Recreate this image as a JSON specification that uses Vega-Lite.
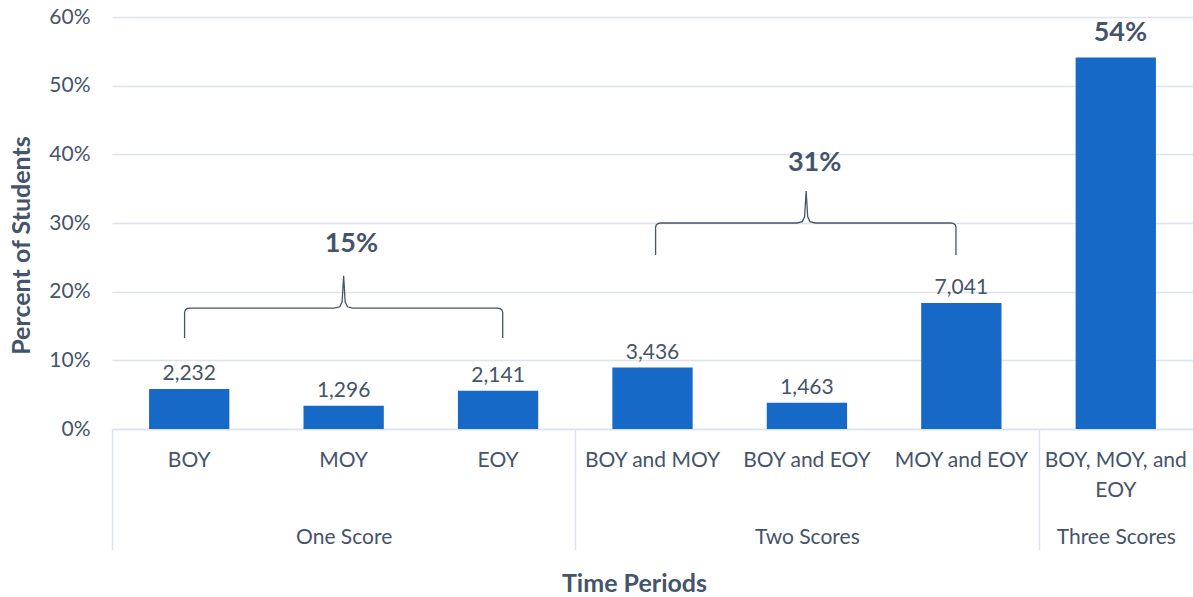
{
  "$schema": "https://vega.github.io/schema/vega-lite/v6.json",
  "width": 1081,
  "height": 412,
  "autosize": {"type": "none"},
  "padding": {"left": 112, "top": 17, "right": 0, "bottom": 168},
  "background": "white",
  "config": {
    "view": {"stroke": null},
    "font": "Lato",
    "axis": {"labelColor": "#44546A", "titleColor": "#44546A", "labelFont": "Lato", "titleFont": "Lato"}
  },
  "datasets": {
    "bars": [
      {"period": "BOY", "group": "One Score", "pct": 0.0581, "count": 2232},
      {"period": "MOY", "group": "One Score", "pct": 0.0338, "count": 1296},
      {"period": "EOY", "group": "One Score", "pct": 0.0558, "count": 2141},
      {"period": "BOY and MOY", "group": "Two Scores", "pct": 0.0895, "count": 3436},
      {"period": "BOY and EOY", "group": "Two Scores", "pct": 0.0381, "count": 1463},
      {"period": "MOY and EOY", "group": "Two Scores", "pct": 0.1834, "count": 7041},
      {"period": "BOY, MOY, and|EOY", "group": "Three Scores", "pct": 0.541, "count": null}
    ],
    "braces": [
      {"brace": "one", "k": 0, "pos": -0.03, "pct": 0.1325},
      {"brace": "one", "k": 1, "pos": -0.03, "pct": 0.170},
      {"brace": "one", "k": 2, "pos": -0.025, "pct": 0.1735},
      {"brace": "one", "k": 3, "pos": -0.012, "pct": 0.1755},
      {"brace": "one", "k": 4, "pos": 0.005, "pct": 0.176},
      {"brace": "one", "k": 5, "pos": 0.94, "pct": 0.176},
      {"brace": "one", "k": 6, "pos": 0.975, "pct": 0.178},
      {"brace": "one", "k": 7, "pos": 0.99, "pct": 0.185},
      {"brace": "one", "k": 8, "pos": 1.0, "pct": 0.223},
      {"brace": "one", "k": 9, "pos": 1.01, "pct": 0.185},
      {"brace": "one", "k": 10, "pos": 1.025, "pct": 0.178},
      {"brace": "one", "k": 11, "pos": 1.06, "pct": 0.176},
      {"brace": "one", "k": 12, "pos": 1.995, "pct": 0.176},
      {"brace": "one", "k": 13, "pos": 2.012, "pct": 0.1755},
      {"brace": "one", "k": 14, "pos": 2.025, "pct": 0.1735},
      {"brace": "one", "k": 15, "pos": 2.03, "pct": 0.170},
      {"brace": "one", "k": 16, "pos": 2.03, "pct": 0.1325},
      {"brace": "two", "k": 0, "pos": 3.02, "pct": 0.2534},
      {"brace": "two", "k": 1, "pos": 3.02, "pct": 0.294},
      {"brace": "two", "k": 2, "pos": 3.025, "pct": 0.2975},
      {"brace": "two", "k": 3, "pos": 3.038, "pct": 0.2995},
      {"brace": "two", "k": 4, "pos": 3.055, "pct": 0.300},
      {"brace": "two", "k": 5, "pos": 3.935, "pct": 0.300},
      {"brace": "two", "k": 6, "pos": 3.97, "pct": 0.302},
      {"brace": "two", "k": 7, "pos": 3.985, "pct": 0.309},
      {"brace": "two", "k": 8, "pos": 3.995, "pct": 0.3466},
      {"brace": "two", "k": 9, "pos": 4.005, "pct": 0.309},
      {"brace": "two", "k": 10, "pos": 4.02, "pct": 0.302},
      {"brace": "two", "k": 11, "pos": 4.055, "pct": 0.300},
      {"brace": "two", "k": 12, "pos": 4.93, "pct": 0.300},
      {"brace": "two", "k": 13, "pos": 4.947, "pct": 0.2995},
      {"brace": "two", "k": 14, "pos": 4.96, "pct": 0.2975},
      {"brace": "two", "k": 15, "pos": 4.965, "pct": 0.294},
      {"brace": "two", "k": 16, "pos": 4.965, "pct": 0.2534}
    ],
    "totals": [
      {"label": "15%", "pos": 1.05, "pct": 0.27},
      {"label": "31%", "pos": 4.05, "pct": 0.387},
      {"label": "54%", "pos": 6.03, "pct": 0.577}
    ]
  },
  "layer": [
    {
      "data": {"name": "bars"},
      "encoding": {
        "x": {
          "field": "period", "type": "nominal", "sort": null,
          "scale": {"paddingInner": 0.48, "paddingOuter": 0.24},
          "axis": {
            "title": "Time Periods", "titleFontSize": 25, "titleFontWeight": "bold",
            "titleX": 522, "titleY": 154, "titleBaseline": "middle",
            "labelExpr": "split(datum.label, '|')", "labelAngle": 0, "labelFontSize": 21,
            "labelPadding": 20, "labelLineHeight": 30, "labelBaseline": "top",
            "ticks": false, "domain": true, "domainColor": "#DCE3EE", "domainWidth": 1.5, "grid": false
          }
        },
        "y": {
          "field": "pct", "type": "quantitative", "title": "Percent of Students",
          "scale": {"domain": [0, 0.6], "nice": false},
          "axis": {"values": [0, 0.1, 0.2, 0.3, 0.4, 0.5, 0.6], "format": ".0%", "grid": true, "gridColor": "#DCE3EE", "gridWidth": 1.5, "domain": false, "ticks": false, "labelFontSize": 21, "labelPadding": 22, "titleFontSize": 25, "titleFontWeight": "bold", "titlePadding": 14, "titleY": 228}
        }
      },
      "layer": [
        {"mark": {"type": "bar", "color": "#1769C8"}},
        {
          "transform": [{"filter": "datum.count != null"}],
          "mark": {"type": "text", "baseline": "alphabetic", "dy": -9, "fontSize": 21, "color": "#44546A"},
          "encoding": {"text": {"field": "count", "type": "quantitative", "format": ","}}
        }
      ]
    },
    {
      "layer": [
        {
          "data": {"name": "braces"},
          "mark": {"type": "line", "color": "#44546A", "strokeWidth": 1.3, "interpolate": "linear"},
          "encoding": {
            "x": {
              "field": "pos", "type": "quantitative",
              "scale": {"domain": [-0.5, 6.5], "nice": false, "zero": false},
              "axis": {
                "orient": "bottom", "title": null, "values": [-0.5, 1, 2.5, 4, 5.5, 6], "grid": false, "domain": false,
                "ticks": true, "tickSize": 121, "tickColor": "#DCE3EE", "tickWidth": 1.5,
                "tickOpacity": {"condition": {"test": "datum.value == 1 || datum.value == 4 || datum.value == 6", "value": 0}, "value": 1},
                "labelExpr": "datum.value == 1 ? 'One Score' : datum.value == 4 ? 'Two Scores' : datum.value == 6 ? 'Three Scores' : ''",
                "labelFontSize": 21, "labelPadding": -24, "labelBaseline": "top", "labelFlush": false, "labelOverlap": false
              }
            },
            "y": {"field": "pct", "type": "quantitative", "title": "Percent of Students"},
            "detail": {"field": "brace"},
            "order": {"field": "k", "type": "quantitative"}
          }
        },
        {
          "data": {"name": "totals"},
          "mark": {"type": "text", "fontSize": 27, "fontWeight": "bold", "color": "#44546A", "baseline": "middle"},
          "encoding": {
            "x": {"field": "pos", "type": "quantitative"},
            "y": {"field": "pct", "type": "quantitative", "title": "Percent of Students"},
            "text": {"field": "label"}
          }
        }
      ]
    }
  ],
  "resolve": {"scale": {"x": "independent"}}
}
